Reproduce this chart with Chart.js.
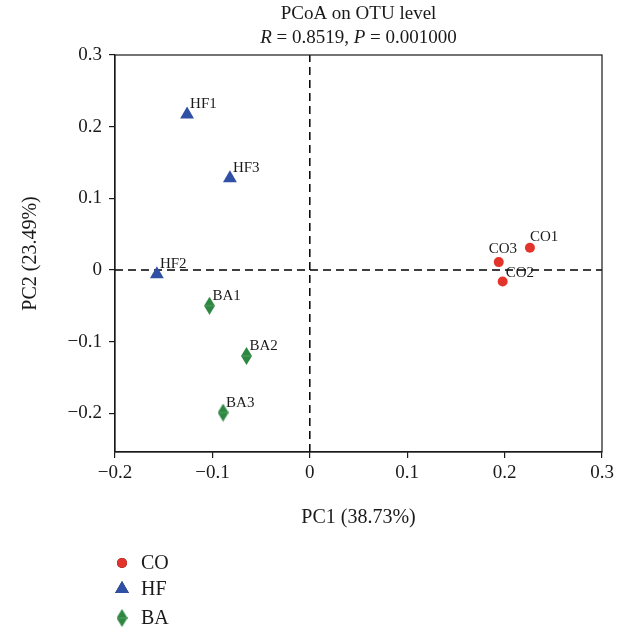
<!DOCTYPE html>
<html>
<head>
<meta charset="utf-8">
<script src="https://cdn.jsdelivr.net/npm/chart.js@4/dist/chart.umd.min.js"></script>
<style>
html, body { margin: 0; padding: 0; background: #fff; }
</style>
</head>
<body>
<canvas id="myChart" width="625" height="633"></canvas>
<script>
// sample coordinates
const coNames = ['CO1', 'CO2', 'CO3'];
const coX = [0.226, 0.198, 0.194];
const coY = [0.031, -0.016, 0.011];

const hfNames = ['HF1', 'HF2', 'HF3'];
const hfX = [-0.126, -0.157, -0.082];
const hfY = [0.217, -0.006, 0.128];

const baNames = ['BA1', 'BA2', 'BA3'];
const baX = [-0.103, -0.065, -0.089];
const baY = [-0.050, -0.120, -0.199];

const xTicks = [-0.2, -0.1, 0, 0.1, 0.2, 0.3];
const yTicks = [-0.2, -0.1, 0, 0.1, 0.2, 0.3];

const serif = "'Liberation Serif', 'Times New Roman', serif";
const ink = '#1a1a1a';

function toPoints(xs, ys) {
    let pts = [];
    for (let i = 0; i < xs.length; i++) {
        pts.push({ x: xs[i], y: ys[i] });
    }
    return pts;
}

function diamond(color) {
    const c = document.createElement('canvas');
    c.width = 11;
    c.height = 18;
    const g = c.getContext('2d');
    g.fillStyle = color;
    g.beginPath();
    g.moveTo(5.5, 0);
    g.lineTo(11, 9);
    g.lineTo(5.5, 18);
    g.lineTo(0, 9);
    g.closePath();
    g.fill();
    g.strokeStyle = 'rgba(255,255,255,0.2)';
    g.lineWidth = 1;
    g.beginPath();
    g.moveTo(1, 9);
    g.lineTo(10, 9);
    g.stroke();
    return c;
}

function fmt(v) {
    if (Math.abs(v) < 1e-9) return '0';
    let s = Math.abs(v).toFixed(1);
    return v < 0 ? '\u2212' + s : s;
}

// small nudges so labels sit where the original put them
const labelShift = { CO1: [0, -11], CO2: [3, -8], CO3: [-10, -13] };

const labelPlugin = {
    id: 'sampleLabels',
    afterDatasetsDraw(chart) {
        const ctx = chart.ctx;
        ctx.save();
        ctx.font = '15px ' + serif;
        ctx.fillStyle = ink;
        ctx.textBaseline = 'middle';
        ctx.textAlign = 'left';
        chart.data.datasets.forEach((ds, di) => {
            if (!ds.names) return;
            const meta = chart.getDatasetMeta(di);
            meta.data.forEach((el, i) => {
                const name = ds.names[i];
                const sh = labelShift[name] || [3, -10];
                ctx.fillText(name, el.x + sh[0], el.y + sh[1]);
            });
        });
        ctx.restore();
    }
};

const framePlugin = {
    id: 'frame',
    afterDraw(chart) {
        const a = chart.chartArea;
        const ctx = chart.ctx;
        ctx.save();
        ctx.strokeStyle = ink;
        ctx.lineWidth = 1.2;
        ctx.strokeRect(a.left, a.top, a.right - a.left, a.bottom - a.top);
        ctx.restore();
    }
};

const titlePlugin = {
    id: 'twoLineTitle',
    afterDraw(chart) {
        const ctx = chart.ctx;
        const a = chart.chartArea;
        const cx = (a.left + a.right) / 2;
        ctx.save();
        ctx.fillStyle = ink;
        ctx.textBaseline = 'middle';
        ctx.font = '19px ' + serif;
        ctx.textAlign = 'center';
        ctx.fillText('PCoA on OTU level', cx, 14);
        // second line with italic R and P
        const parts = [['R', true], [' = 0.8519, ', false], ['P', true], [' = 0.001000', false]];
        let total = 0;
        parts.forEach(p => {
            ctx.font = (p[1] ? 'italic ' : '') + '19px ' + serif;
            total += ctx.measureText(p[0]).width;
        });
        let x = cx - total / 2;
        ctx.textAlign = 'left';
        parts.forEach(p => {
            ctx.font = (p[1] ? 'italic ' : '') + '19px ' + serif;
            ctx.fillText(p[0], x, 38);
            x += ctx.measureText(p[0]).width;
        });
        ctx.restore();
    }
};

const legendPlugin = {
    id: 'groupLegend',
    afterDraw(chart) {
        const ctx = chart.ctx;
        const rows = [563, 589, 618];
        ctx.save();
        chart.data.datasets.filter(d => d.names).forEach((ds, i) => {
            const y = rows[i];
            Chart.helpers.drawPoint(ctx, {
                pointStyle: ds.pointStyle,
                radius: ds.pointRadius,
                borderWidth: 0,
                rotation: 0
            }, 122, y);
            ctx.fillStyle = ds.backgroundColor;
            if (ds.pointStyle === 'circle' || ds.pointStyle === 'triangle') ctx.fill();
            ctx.fillStyle = ink;
            ctx.font = '20px ' + serif;
            ctx.textBaseline = 'middle';
            ctx.textAlign = 'left';
            ctx.fillText(ds.label, 141, y + 1);
        });
        ctx.restore();
    }
};

const ctx = document.getElementById('myChart');
new Chart(ctx, {
    type: 'scatter',
    data: {
        datasets: [
            {
                label: 'CO',
                names: coNames,
                data: toPoints(coX, coY),
                pointStyle: 'circle',
                pointRadius: 5,
                backgroundColor: '#e3342b',
                borderWidth: 0
            },
            {
                label: 'HF',
                names: hfNames,
                data: toPoints(hfX, hfY),
                pointStyle: 'triangle',
                pointRadius: 8,
                backgroundColor: '#2f50a4',
                borderWidth: 0
            },
            {
                label: 'BA',
                names: baNames,
                data: toPoints(baX, baY),
                pointStyle: diamond('#2e8741'),
                pointRadius: 8,
                backgroundColor: '#2e8741',
                borderWidth: 0
            },
            {
                label: 'x0',
                data: [{ x: -0.2, y: 0 }, { x: 0.3, y: 0 }],
                showLine: true,
                pointRadius: 0,
                borderColor: '#000',
                borderWidth: 1.5,
                borderDash: [8, 5]
            },
            {
                label: 'y0',
                data: [{ x: 0, y: -0.254 }, { x: 0, y: 0.3 }],
                showLine: true,
                pointRadius: 0,
                borderColor: '#000',
                borderWidth: 1.5,
                borderDash: [8, 5]
            }
        ]
    },
    options: {
        responsive: false,
        animation: false,
        layout: {
            padding: { top: 55, right: 23, bottom: 101, left: 0 }
        },
        plugins: {
            legend: { display: false },
            tooltip: { enabled: false },
            title: { display: false }
        },
        scales: {
            x: {
                type: 'linear',
                min: -0.2,
                max: 0.3,
                afterBuildTicks: s => { s.ticks = xTicks.map(v => ({ value: v })); },
                afterFit: s => { s.height = 80; },
                grid: {
                    drawOnChartArea: false,
                    drawTicks: true,
                    tickLength: 6,
                    color: ink,
                    lineWidth: 1.2
                },
                border: { display: true, color: ink, width: 1.2 },
                ticks: {
                    color: ink,
                    padding: 4,
                    maxRotation: 0,
                    font: { family: serif, size: 19 },
                    callback: v => fmt(v)
                },
                title: {
                    display: true,
                    text: 'PC1 (38.73%)',
                    color: ink,
                    font: { family: serif, size: 20 },
                    padding: { top: 0, bottom: 2 }
                }
            },
            y: {
                type: 'linear',
                min: -0.254,
                max: 0.3,
                afterBuildTicks: s => { s.ticks = yTicks.map(v => ({ value: v })); },
                afterFit: s => { s.width = 115; },
                grid: {
                    drawOnChartArea: false,
                    drawTicks: true,
                    tickLength: 6,
                    color: ink,
                    lineWidth: 1.2
                },
                border: { display: true, color: ink, width: 1.2 },
                ticks: {
                    color: ink,
                    padding: 7,
                    font: { family: serif, size: 19 },
                    callback: v => fmt(v)
                },
                title: {
                    display: true,
                    text: 'PC2 (23.49%)',
                    color: ink,
                    font: { family: serif, size: 20 },
                    padding: { top: 19, bottom: 0 }
                }
            }
        }
    },
    plugins: [labelPlugin, framePlugin, titlePlugin, legendPlugin]
});
</script>
</body>
</html>
